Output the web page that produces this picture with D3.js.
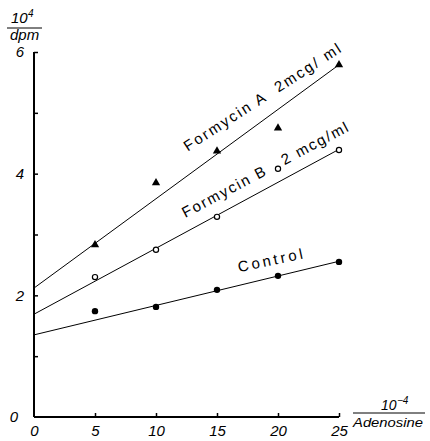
<!DOCTYPE html>
<html><head><meta charset="utf-8">
<script src="https://cdn.jsdelivr.net/npm/d3@7"></script>
<style>
body{margin:0;background:#fff;}
svg{display:block;font-family:"Liberation Sans",Arial,sans-serif;}
text{white-space:pre;}
</style></head>
<body>
<svg id="c" width="430" height="441"></svg>
<script>
const xVals = [5, 10, 15, 20, 25];
const formycinA = [2.83, 3.85, 4.37, 4.75, 5.79];
const formycinB = [2.30, 2.75, 3.29, 4.08, 4.39];
const control = [1.74, 1.81, 2.09, 2.32, 2.55];
const fitA = [[0, 2.12], [25, 5.79]];
const fitB = [[0, 1.69], [25, 4.40]];
const fitC = [[0, 1.35], [25, 2.56]];
const xTicks = [0, 5, 10, 15, 20, 25];
const yTicks = [0, 1, 2, 3, 4, 5, 6];
const yLabels = [0, 2, 4, 6];

const svg = d3.select("#c");
const x = d3.scaleLinear().domain([0, 25]).range([34, 339]);
const y = d3.scaleLinear().domain([0, 6]).range([417, 52]);

// axes
const xAxis = d3.axisBottom(x).tickValues(xTicks).tickSize(-4).tickPadding(8).tickFormat(d3.format("d"));
const gx = svg.append("g").attr("transform", `translate(0,${y(0)})`).call(xAxis);
gx.select(".domain").attr("stroke-width", 2).attr("d", `M${x(0)},0H${x(25)}`);
gx.selectAll(".tick line").attr("stroke-width", 1.5);
gx.selectAll(".tick").filter(d => d === 0).select("line").remove();
gx.selectAll(".tick text").attr("font-size", 15).attr("font-style", "italic").attr("fill", "#000").attr("dy", "0.75em");

const yAxis = d3.axisLeft(y).tickValues(yTicks).tickSize(-4).tickPadding(10)
  .tickFormat(d => yLabels.includes(d) ? d : "");
const gy = svg.append("g").attr("transform", `translate(${x(0)},0)`).call(yAxis);
gy.select(".domain").attr("stroke-width", 2).attr("d", `M0,${y(0)}V${y(6)}`);
gy.selectAll(".tick line").attr("stroke-width", 1.5);
gy.selectAll(".tick").filter(d => d === 0).select("line").remove();
gy.selectAll(".tick text").attr("font-size", 15).attr("font-style", "italic").attr("fill", "#000");
gy.selectAll(".tick").filter(d => d === 0).select("text").attr("x", -16);

// fit lines
const line = d3.line().x(d => x(d[0])).y(d => y(d[1]));
[fitA, fitB, fitC].forEach(f => {
  svg.append("path").attr("d", line(f)).attr("fill", "none").attr("stroke", "#000").attr("stroke-width", 1);
});

// points
const tri = d3.symbol().type(d3.symbolTriangle).size(30);
svg.append("g").selectAll("path").data(xVals.map((v, i) => [v, formycinA[i]])).join("path")
  .attr("d", tri).attr("transform", d => `translate(${x(d[0])},${y(d[1])})`).attr("fill", "#000");
svg.append("g").selectAll("circle").data(xVals.map((v, i) => [v, formycinB[i]])).join("circle")
  .attr("cx", d => x(d[0])).attr("cy", d => y(d[1])).attr("r", 2.6)
  .attr("fill", "#fff").attr("stroke", "#000").attr("stroke-width", 1.2);
svg.append("g").selectAll("circle").data(xVals.map((v, i) => [v, control[i]])).join("circle")
  .attr("cx", d => x(d[0])).attr("cy", d => y(d[1])).attr("r", 3.2).attr("fill", "#000");

// series labels
const labels = [
  {t: "Formycin A  2mcg/ ml", x: 12.6, y: 4.36, a: -33, len: 184},
  {t: "Formycin B   2 mcg/ml", x: 12.4, y: 3.27, a: -28, len: 186},
  {t: "Control", x: 16.8, y: 2.38, a: -12, len: 66}
];
labels.forEach(l => {
  svg.append("text").attr("transform", `translate(${x(l.x)},${y(l.y)}) rotate(${l.a})`)
    .attr("font-size", 15).attr("textLength", l.len).attr("lengthAdjust", "spacing")
    .attr("fill", "#000").text(l.t);
});

// axis titles
const yt = svg.append("g").attr("font-style", "italic").attr("font-size", 15);
yt.append("text").attr("x", 11).attr("y", 23).text("10");
yt.append("text").attr("x", 28).attr("y", 17).attr("font-size", 10).text("4");
svg.append("line").attr("x1", 7).attr("x2", 42).attr("y1", 28).attr("y2", 28).attr("stroke", "#000").attr("stroke-width", 1);
yt.append("text").attr("x", 10).attr("y", 40).text("dpm");

const xt = svg.append("g").attr("font-style", "italic");
xt.append("text").attr("x", 381).attr("y", 410).attr("font-size", 14).text("10");
xt.append("text").attr("x", 397).attr("y", 404).attr("font-size", 10).text("−4");
svg.append("line").attr("x1", 353).attr("x2", 425).attr("y1", 413).attr("y2", 413).attr("stroke", "#000").attr("stroke-width", 1);
xt.append("text").attr("x", 353).attr("y", 427).attr("font-size", 12.5).attr("textLength", 70).attr("lengthAdjust", "spacingAndGlyphs").text("Adenosine");
</script>
</body></html>
